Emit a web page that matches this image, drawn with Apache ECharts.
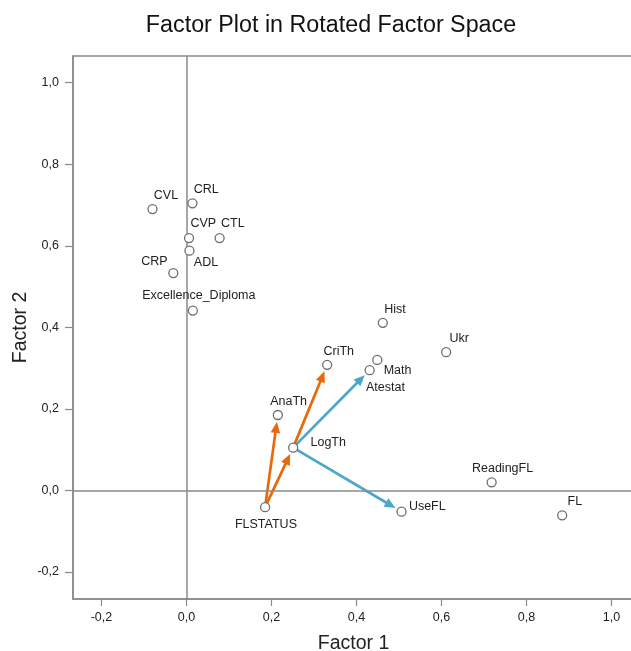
<!DOCTYPE html>
<html>
<head>
<meta charset="utf-8">
<script src="https://cdn.jsdelivr.net/npm/echarts@6/dist/echarts.min.js"></script>
<style>html,body{margin:0;padding:0;background:#fff}#c{width:631px;height:651px}</style>
</head>
<body>
<div id="c"></div>
<script>
// ---- data ----
var names = ['CVL','CRL','CVP','CTL','ADL','CRP','Excellence_Diploma','Hist','Ukr','CriTh','Math','Atestat','AnaTh','LogTh','FLSTATUS','UseFL','ReadingFL','FL'];
var factor1 = [-0.080, 0.014, 0.006, 0.078, 0.007, -0.031, 0.015, 0.462, 0.611, 0.331, 0.449, 0.431, 0.215, 0.251, 0.185, 0.506, 0.718, 0.884];
var factor2 = [0.690, 0.704, 0.619, 0.619, 0.588, 0.533, 0.441, 0.411, 0.339, 0.308, 0.320, 0.295, 0.185, 0.105, -0.041, -0.052, 0.020, -0.061];
var orangeArrows = [['FLSTATUS','AnaTh'],['FLSTATUS','LogTh'],['LogTh','CriTh']];
var blueArrows = [['LogTh','Atestat'],['LogTh','UseFL']];
var xTicks = [-0.2, 0.0, 0.2, 0.4, 0.6, 0.8, 1.0];
var yTicks = [-0.2, 0.0, 0.2, 0.4, 0.6, 0.8, 1.0];

// ---- label placement (style only): [align, dx, dy] from marker centre ----
var labelLayout = {
  'CVL': ['left', 2, -13], 'CRL': ['left', 2, -13], 'CVP': ['left', 2, -14], 'CTL': ['left', 2, -14],
  'ADL': ['left', 5, 13], 'CRP': ['right', -5, -11], 'Excellence_Diploma': ['left', -50, -14],
  'Hist': ['left', 2, -13], 'Ukr': ['left', 4, -13], 'CriTh': ['left', -3, -13], 'Math': ['left', 7, 11],
  'Atestat': ['left', -3, 18], 'AnaTh': ['left', -7, -13], 'LogTh': ['left', 18, -4],
  'FLSTATUS': ['center', 1.5, 18], 'UseFL': ['left', 8, -4], 'ReadingFL': ['left', -19, -13], 'FL': ['left', 6, -13]
};
var SYM = 9;

function idx(n){ return names.indexOf(n); }
function arrowData(list){
  return list.map(function(p){
    var a = idx(p[0]), b = idx(p[1]);
    return [factor1[a], factor2[a], factor1[b], factor2[b]];
  });
}
function fmt(v){ return (Math.round(v*10)/10).toFixed(1).replace('.', ','); }

function arrowRender(color){
  return function(params, api){
    var p0 = api.coord([api.value(0), api.value(1)]);
    var p1 = api.coord([api.value(2), api.value(3)]);
    var dx = p1[0]-p0[0], dy = p1[1]-p0[1];
    var L = Math.sqrt(dx*dx+dy*dy); var ux = dx/L, uy = dy/L;
    var endGap = 7, headLen = 11, headHalf = 4.8;
    var tip = [p1[0]-ux*endGap, p1[1]-uy*endGap];
    var base = [tip[0]-ux*headLen, tip[1]-uy*headLen];
    var nx = -uy, ny = ux;
    return {
      type: 'group',
      children: [
        { type: 'line', shape: { x1: p0[0], y1: p0[1], x2: base[0]+ux*2, y2: base[1]+uy*2 },
          style: { stroke: color, lineWidth: 2.7 } },
        { type: 'polygon', shape: { points: [tip, [base[0]+nx*headHalf, base[1]+ny*headHalf], [base[0]-nx*headHalf, base[1]-ny*headHalf]] },
          style: { fill: color } }
      ]
    };
  };
}

var points = names.map(function(n, i){
  var l = labelLayout[n];
  return {
    name: n, value: [factor1[i], factor2[i]],
    label: { show: true, formatter: n, position: [SYM/2 + l[1], SYM/2 + l[2]], align: l[0], verticalAlign: 'middle' }
  };
});

var chart = echarts.init(document.getElementById('c'), null, { renderer: 'canvas' });
var FONT = 'Liberation Sans, Arial, sans-serif';
chart.setOption({
  animation: false,
  backgroundColor: '#fff',
  title: {
    text: 'Factor Plot in Rotated Factor Space', left: 326, top: 9, textAlign: 'center',
    textStyle: { fontFamily: FONT, fontSize: 23.3, fontWeight: 'normal', color: '#111' }
  },
  grid: { left: 73, top: 56, width: 561, height: 543, show: true, borderColor: '#8a8a8a', borderWidth: 1.5, backgroundColor: 'transparent', outerBoundsMode: 'none', containLabel: false },
  xAxis: {
    type: 'value', min: -0.267, max: 1.053,
    name: 'Factor 1', nameLocation: 'middle', nameGap: 35, nameMoveOverlap: false,
    nameTextStyle: { fontFamily: FONT, fontSize: 19.5, color: '#222' },
    axisLine: { show: true, onZero: false, lineStyle: { color: '#8a8a8a', width: 1.5 } },
    axisTick: { show: true, length: 7, customValues: xTicks, lineStyle: { color: '#8a8a8a', width: 1.2 } },
    axisLabel: { customValues: xTicks, formatter: fmt, margin: 12, fontFamily: FONT, fontSize: 12.5, color: '#222' },
    splitLine: { show: false }
  },
  yAxis: {
    type: 'value', min: -0.2662, max: 1.0654,
    name: 'Factor 2', nameLocation: 'middle', nameGap: 42, nameRotate: 90, nameMoveOverlap: false,
    nameTextStyle: { fontFamily: FONT, fontSize: 19.5, color: '#222' },
    axisLine: { show: true, onZero: false, lineStyle: { color: '#8a8a8a', width: 1.5 } },
    axisTick: { show: true, length: 8, customValues: yTicks, lineStyle: { color: '#8a8a8a', width: 1.2 } },
    axisLabel: { customValues: yTicks, formatter: fmt, margin: 14, fontFamily: FONT, fontSize: 12.5, color: '#222' },
    splitLine: { show: false }
  },
  series: [
    {
      type: 'scatter', z: 1, data: [], silent: true,
      markLine: {
        silent: true, symbol: 'none', label: { show: false },
        lineStyle: { color: '#8a8a8a', width: 1.5, type: 'solid' },
        data: [{ xAxis: 0 }, { yAxis: 0 }]
      }
    },
    { type: 'custom', z: 3, renderItem: arrowRender('#E8690B'), data: arrowData(orangeArrows), silent: true },
    { type: 'custom', z: 3, renderItem: arrowRender('#4EA7CB'), data: arrowData(blueArrows), silent: true },
    {
      type: 'scatter', z: 5, symbol: 'circle', symbolSize: SYM,
      itemStyle: { color: '#fff', borderColor: '#6e6e6e', borderWidth: 1.3, opacity: 1 },
      label: { fontFamily: FONT, fontSize: 12.5, color: '#222' },
      data: points
    }
  ]
});
</script>
</body>
</html>
